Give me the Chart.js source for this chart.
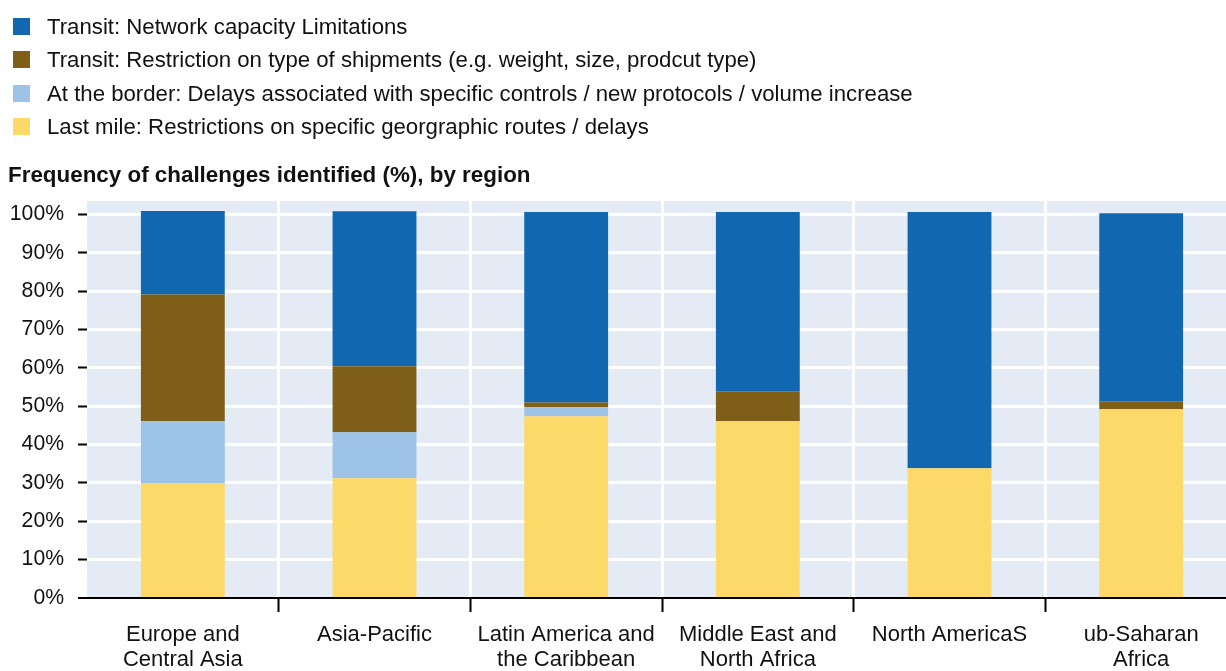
<!DOCTYPE html>
<html>
<head>
<meta charset="utf-8">
<script src="https://cdn.jsdelivr.net/npm/chart.js@4/dist/chart.umd.min.js"></script>
<style>
    html, body { margin: 0; padding: 0; overflow: hidden; background: #fff; width: 1226px; height: 671px; }
    .wrap { position: relative; width: 1226px; height: 671px; font-family: "Liberation Sans", Arial, sans-serif; color: #111; }
    #chart { position: absolute; left: 0; top: 0; }
    .legend { position: absolute; left: 13px; top: 10px; }
    .legend-row { position: absolute; left: 0; height: 34px; white-space: nowrap; font-size: 22.2px; line-height: 34px; }
    .legend-row span.box { position: absolute; left: 0; top: 8px; width: 17px; height: 17px; }
    .legend-row span.txt { position: absolute; left: 34px; top: 0; }
    .title { position: absolute; left: 8px; top: 162px; font-size: 22.4px; font-weight: bold; white-space: nowrap; }
</style>
</head>
<body>
<div class="wrap">
    <canvas id="chart" width="1238" height="671"></canvas>
    <div class="legend" id="legend"></div>
    <div class="title">Frequency of challenges identified (%), by region</div>
</div>
<script>
// Chart data
const regions = [
    ['Europe and', 'Central Asia'],
    'Asia-Pacific',
    ['Latin America and', 'the Caribbean'],
    ['Middle East and', 'North Africa'],
    'North AmericaS',
    ['ub-Saharan', 'Africa']
];
const lastMile = [30.0, 31.2, 47.4, 46.1, 33.8, 49.2];
const border = [16.1, 12.0, 2.3, 0, 0, 0];
const restriction = [33.0, 17.2, 1.3, 7.8, 0, 2.1];
const networkCapacity = [21.8, 40.4, 49.6, 46.7, 66.8, 49.0];
const yTicks = [0, 10, 20, 30, 40, 50, 60, 70, 80, 90, 100];

const seriesNames = [
    'Transit: Network capacity Limitations',
    'Transit: Restriction on type of shipments (e.g. weight, size, prodcut type)',
    'At the border: Delays associated with specific controls / new protocols / volume increase',
    'Last mile: Restrictions on specific georgraphic routes / delays'
];
const seriesColors = ['#1167b0', '#7f5f17', '#9dc3e6', '#fdd96a'];

// Legend (top to bottom)
const legendEl = document.getElementById('legend');
seriesNames.forEach((name, i) => {
    const row = document.createElement('div');
    row.className = 'legend-row';
    row.style.top = (i * 33.3) + 'px';
    row.innerHTML = '<span class="box" style="background:' + seriesColors[i] + '"></span><span class="txt">' + name + '</span>';
    legendEl.appendChild(row);
});

// Plot area background
const plotBackground = {
    id: 'plotBackground',
    beforeDraw(chart) {
        const a = chart.chartArea;
        const c = chart.ctx;
        c.save();
        c.fillStyle = '#e4ebf4';
        c.fillRect(a.left, a.top, a.right - a.left, a.bottom - a.top);
        c.restore();
    }
};

const barOpts = { barPercentage: 0.4375, categoryPercentage: 1, borderWidth: 0 };

new Chart(document.getElementById('chart'), {
    type: 'bar',
    data: {
        labels: regions,
        datasets: [
            { label: seriesNames[3], data: lastMile, backgroundColor: seriesColors[3], ...barOpts },
            { label: seriesNames[2], data: border, backgroundColor: seriesColors[2], ...barOpts },
            { label: seriesNames[1], data: restriction, backgroundColor: seriesColors[1], ...barOpts },
            { label: seriesNames[0], data: networkCapacity, backgroundColor: seriesColors[0], ...barOpts }
        ]
    },
    options: {
        responsive: false,
        devicePixelRatio: 1,
        animation: false,
        layout: { padding: { top: 201, right: 1, left: 0, bottom: 0 } },
        plugins: {
            legend: { display: false },
            tooltip: { enabled: false }
        },
        scales: {
            x: {
                stacked: true,
                afterFit: (scale) => { scale.height = 73; },
                border: { display: true, color: '#000', width: 2 },
                grid: {
                    offset: true,
                    color: (ctx) => ctx.index === 0 ? 'rgba(0,0,0,0)' : '#ffffff',
                    tickColor: (ctx) => ctx.index === 0 ? 'rgba(0,0,0,0)' : '#000',
                    lineWidth: 3,
                    tickWidth: 2,
                    tickLength: 14
                },
                ticks: {
                    color: '#111',
                    padding: 10,
                    maxRotation: 0,
                    font: { family: '"Liberation Sans", Arial, sans-serif', size: 22, lineHeight: 1.14 }
                }
            },
            y: {
                stacked: true,
                min: 0,
                max: 103.5,
                afterFit: (scale) => { scale.width = 87; },
                afterBuildTicks: (scale) => { scale.ticks = yTicks.map(v => ({ value: v })); },
                border: { display: false },
                grid: {
                    color: (ctx) => ctx.tick && ctx.tick.value === 0 ? '#000' : '#ffffff',
                    lineWidth: (ctx) => ctx.tick && ctx.tick.value === 0 ? 2 : 3,
                    tickColor: '#000',
                    tickWidth: 2,
                    tickLength: 9
                },
                ticks: {
                    color: '#111',
                    padding: 14,
                    callback: (v) => v + '%',
                    font: { family: '"Liberation Sans", Arial, sans-serif', size: 21.2 }
                }
            }
        }
    },
    plugins: [plotBackground]
});
</script>
</body>
</html>
